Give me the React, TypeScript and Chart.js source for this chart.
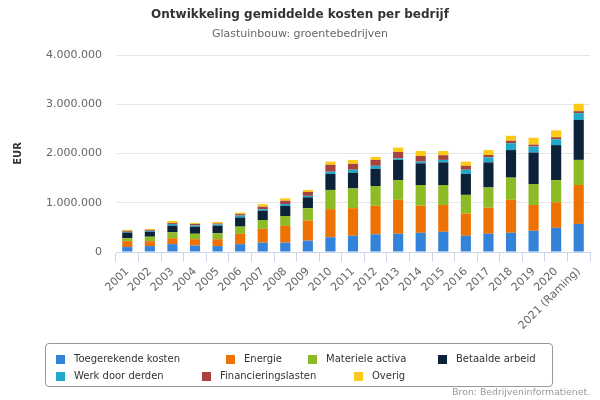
import React, { useEffect, useRef } from "react";
import { Chart, registerables } from "chart.js";

Chart.register(...registerables);

const FONT = "'DejaVu Sans', Verdana, sans-serif";

const categories = [
  "2001", "2002", "2003", "2004", "2005", "2006", "2007", "2008", "2009", "2010",
  "2011", "2012", "2013", "2014", "2015", "2016", "2017", "2018", "2019", "2020",
  "2021 (Raming)",
];

const toegerekendeKosten = [100000, 120000, 160000, 130000, 120000, 160000, 190000, 190000, 230000, 300000, 330000, 360000, 370000, 390000, 410000, 330000, 370000, 390000, 430000, 490000, 570000];
const energie = [120000, 100000, 120000, 130000, 140000, 210000, 280000, 340000, 410000, 570000, 560000, 580000, 690000, 550000, 545000, 450000, 530000, 670000, 525000, 520000, 790000];
const materieleActiva = [60000, 90000, 120000, 110000, 120000, 145000, 180000, 200000, 250000, 390000, 400000, 400000, 400000, 420000, 405000, 380000, 410000, 450000, 425000, 450000, 510000];
const betaaldeArbeid = [115000, 100000, 135000, 145000, 155000, 185000, 190000, 205000, 220000, 325000, 320000, 350000, 410000, 440000, 460000, 425000, 510000, 560000, 640000, 710000, 810000];
const werkDoorDerden = [15000, 20000, 35000, 25000, 25000, 40000, 30000, 40000, 30000, 45000, 60000, 60000, 30000, 35000, 50000, 85000, 100000, 140000, 120000, 120000, 140000];
const financieringslasten = [20000, 20000, 20000, 30000, 20000, 30000, 50000, 65000, 80000, 140000, 120000, 120000, 130000, 115000, 95000, 80000, 50000, 50000, 40000, 40000, 40000];
const overig = [20000, 20000, 40000, 20000, 30000, 30000, 50000, 50000, 40000, 65000, 80000, 60000, 90000, 100000, 85000, 85000, 100000, 100000, 140000, 140000, 150000];

const seriesNames = [
  "Toegerekende kosten",
  "Energie",
  "Materiele activa",
  "Betaalde arbeid",
  "Werk door derden",
  "Financieringslasten",
  "Overig",
];
const seriesValues = [
  toegerekendeKosten,
  energie,
  materieleActiva,
  betaaldeArbeid,
  werkDoorDerden,
  financieringslasten,
  overig,
];
const seriesColors = ["#3483db", "#ee7203", "#8cbb26", "#0c2239", "#20a8c8", "#a8423f", "#fcc917"];

const yTickValues = [0, 1000000, 2000000, 3000000, 4000000];

// legend item layout (page coordinates of each symbol)
const legendLayout = [
  { left: 56, top: 353 },
  { left: 226, top: 353 },
  { left: 308, top: 353 },
  { left: 438, top: 353 },
  { left: 56, top: 370 },
  { left: 202, top: 370 },
  { left: 354, top: 370 },
];

function formatNl(v: number): string {
  return String(Math.round(v)).replace(/\B(?=(\d{3})+(?!\d))/g, ".");
}

export default function App() {
  const canvasRef = useRef<HTMLCanvasElement | null>(null);

  useEffect(() => {
    document.body.style.margin = "0";
    const canvas = canvasRef.current;
    if (!canvas) return;
    const chart = new Chart(canvas, {
      type: "bar",
      data: {
        labels: categories,
        datasets: seriesNames.map((name, i) => ({
          label: name,
          data: seriesValues[i],
          backgroundColor: seriesColors[i],
          borderWidth: 0,
          barPercentage: 0.45,
          categoryPercentage: 1,
        })),
      },
      options: {
        responsive: false,
        animation: false,
        layout: { padding: { left: 10, right: 10, top: 0, bottom: 0 } },
        plugins: {
          legend: { display: false },
          tooltip: { enabled: false },
          title: {
            display: true,
            text: "Ontwikkeling gemiddelde kosten per bedrijf",
            color: "#333333",
            font: { family: FONT, size: 12, weight: "bold" },
            padding: { top: 8, bottom: 5 },
          },
          subtitle: {
            display: true,
            text: "Glastuinbouw: groentebedrijven",
            color: "#666666",
            font: { family: FONT, size: 11 },
            padding: { top: 0, bottom: 14.4 },
          },
        },
        scales: {
          x: {
            stacked: true,
            grid: { drawOnChartArea: false, drawTicks: true, tickLength: 10, color: "#ccd6eb" },
            border: { color: "#ccd6eb" },
            ticks: {
              color: "#666666",
              font: { family: FONT, size: 11 },
              minRotation: 45,
              maxRotation: 45,
              autoSkip: false,
              padding: 3,
            },
            afterFit: (s: any) => {
              s.height = 148;
            },
          },
          y: {
            stacked: true,
            min: 0,
            max: 4000000,
            afterBuildTicks: (s: any) => {
              s.ticks = yTickValues.map((v) => ({ value: v }));
            },
            ticks: {
              color: "#666666",
              font: { family: FONT, size: 11 },
              padding: 14,
              callback: (v: any) => formatNl(Number(v)),
            },
            grid: { color: "#e6e6e6", drawTicks: false },
            border: { display: false },
            title: {
              display: true,
              text: "EUR",
              color: "#333333",
              font: { family: FONT, size: 10, weight: "bold" },
              padding: { top: 2, bottom: 0 },
            },
            afterFit: (s: any) => {
              s.width = 106;
            },
          },
        },
      },
    });
    return () => chart.destroy();
  }, []);

  return (
    <div style={{ position: "fixed", left: 0, top: 0, width: 600, height: 400, background: "#fff", fontFamily: FONT }}>
      <canvas ref={canvasRef} width={600} height={400} style={{ position: "absolute", left: 0, top: 0, width: 600, height: 400 }} />
      <div
        style={{
          position: "absolute",
          left: 45,
          top: 343,
          width: 508,
          height: 44,
          border: "1px solid #999999",
          borderRadius: 4,
          boxSizing: "border-box",
        }}
      />
      {seriesNames.map((name, i) => (
        <div
          key={name}
          style={{
            position: "absolute",
            left: legendLayout[i].left,
            top: legendLayout[i].top,
            height: 12,
            display: "flex",
            alignItems: "center",
            whiteSpace: "nowrap",
            fontSize: 10,
            color: "#333333",
            lineHeight: "12px",
          }}
        >
          <span style={{ display: "inline-block", width: 9, height: 9, background: seriesColors[i], marginRight: 9 }} />
          <span>{name}</span>
        </div>
      ))}
      <div
        style={{
          position: "absolute",
          right: 10,
          top: 386,
          fontSize: 9.3,
          color: "#999999",
          whiteSpace: "nowrap",
          lineHeight: "12px",
        }}
      >
        Bron: Bedrijveninformatienet.
      </div>
    </div>
  );
}
